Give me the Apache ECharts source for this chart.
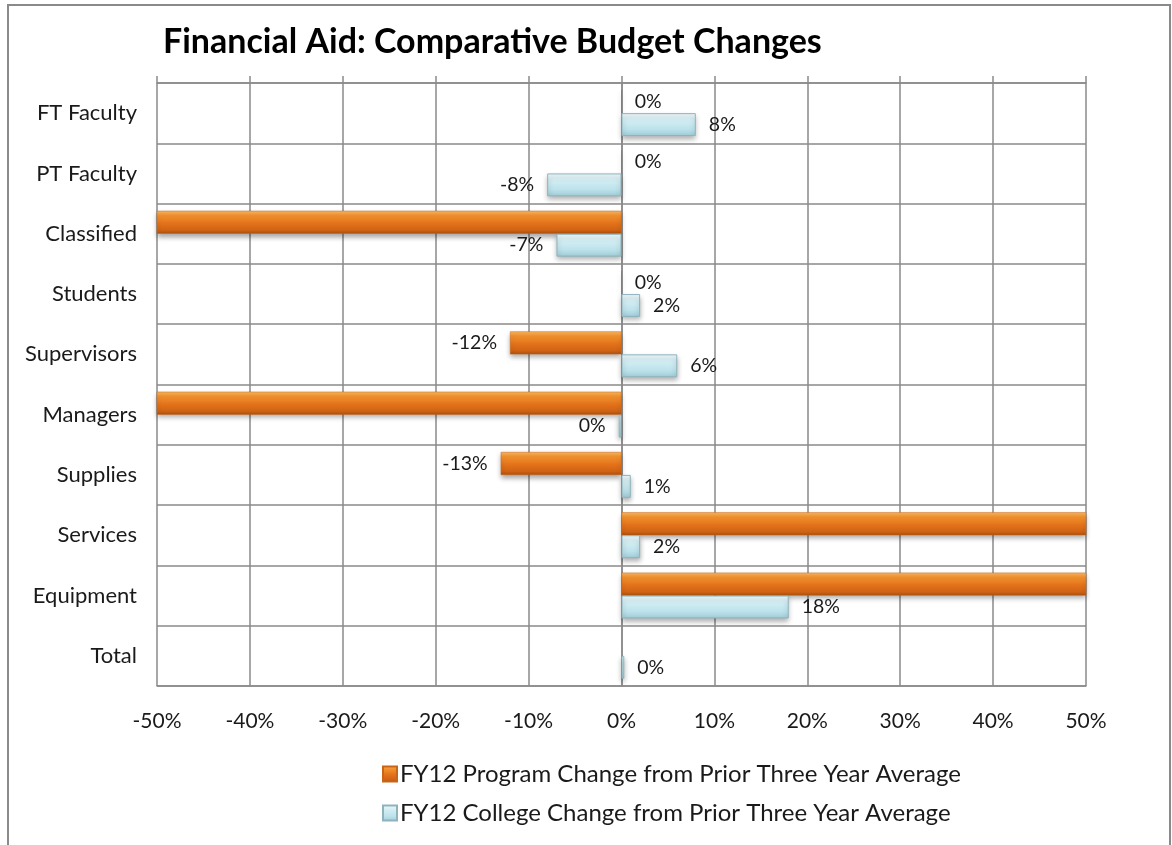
<!DOCTYPE html>
<html>
<head>
<meta charset="utf-8">
<script src="https://cdn.jsdelivr.net/npm/echarts@6/dist/echarts.min.js"></script>
<style>
  html, body { margin: 0; padding: 0; background: #fff; }
  #chart { width: 1172px; height: 845px; }
</style>
</head>
<body>
<div id="chart"></div>
<script>
// ---- data ----
const categories = ['FT Faculty', 'PT Faculty', 'Classified', 'Students', 'Supervisors', 'Managers', 'Supplies', 'Services', 'Equipment', 'Total'];
const programChange = [0, 0, -65, 0, -12, -70, -13, 80, 90, null];
const collegeChange = [8, -8, -7, 2, 6, -0.3, 1, 2, 18, 0.3];
const seriesNames = ['FY12 Program Change from Prior Three Year Average', 'FY12 College Change from Prior Three Year Average'];
const axisMin = -50, axisMax = 50, axisStep = 10;

const FONT = 'Lato, "Open Sans", sans-serif';

function toItems(arr) {
  return arr.map(v => {
    if (v === null) return null;
    const out = v > axisMax || v < axisMin;
    return {
      value: v,
      label: {
        show: !out,
        position: v < 0 ? 'left' : 'right'
      }
    };
  });
}

const orangeGrad = new echarts.graphic.LinearGradient(0, 0, 0, 1, [
  { offset: 0, color: '#fbb862' },
  { offset: 0.2, color: '#f2922f' },
  { offset: 0.55, color: '#e3721a' },
  { offset: 0.85, color: '#cf6214' },
  { offset: 1, color: '#a9500f' }
]);
const blueGrad = new echarts.graphic.LinearGradient(0, 0, 0, 1, [
  { offset: 0, color: '#f0fafc' },
  { offset: 0.3, color: '#d3eef4' },
  { offset: 0.7, color: '#bce2eb' },
  { offset: 1, color: '#a0ccd7' }
]);

const labelStyle = {
  show: true,
  fontFamily: FONT,
  fontSize: 19.5,
  color: '#1a1a1a',
  distance: 13,
  formatter: p => Math.round(p.value) + '%'
};

const chart = echarts.init(document.getElementById('chart'), null, { renderer: 'canvas' });
chart.setOption({
  animation: false,
  backgroundColor: '#fff',
  graphic: [{
    type: 'rect',
    shape: { x: 8, y: 5, width: 1162, height: 900 },
    style: { fill: 'none', stroke: '#8a8a8a', lineWidth: 2 },
    silent: true,
    z: -1
  }],
  title: {
    text: 'Financial Aid: Comparative Budget Changes',
    left: 158,
    top: 20,
    textStyle: { fontFamily: FONT, fontSize: 34, fontWeight: 'bold', color: '#000' }
  },
  legend: {
    orient: 'vertical',
    left: 377,
    top: 757,
    itemGap: 15,
    itemWidth: 14,
    itemHeight: 15,
    icon: 'rect',
    textStyle: { fontFamily: FONT, fontSize: 24, color: '#1a1a1a', padding: [0, 0, 0, -2] },
    data: seriesNames
  },
  grid: { left: 157, right: 86, top: 83, bottom: 159, containLabel: false },
  xAxis: [{
    type: 'value',
    position: 'bottom',
    min: axisMin, max: axisMax, interval: axisStep,
    axisLabel: { formatter: '{value}%', fontFamily: FONT, fontSize: 21, color: '#1a1a1a', margin: 25 },
    axisLine: { show: true, lineStyle: { color: '#8a8a8a', width: 1.5 } },
    axisTick: { show: false },
    splitLine: { show: true, lineStyle: { color: '#8a8a8a', width: 1.5 } }
  }, {
    type: 'value',
    position: 'top',
    min: axisMin, max: axisMax, interval: axisStep,
    axisLabel: { show: false },
    axisLine: { show: true, lineStyle: { color: '#8a8a8a', width: 1.5 } },
    axisTick: { show: true, length: 7, lineStyle: { color: '#8a8a8a', width: 1.5 } },
    splitLine: { show: false }
  }],
  yAxis: {
    type: 'category',
    inverse: true,
    data: categories,
    axisLabel: { fontFamily: FONT, fontSize: 22, color: '#1a1a1a', margin: 20 },
    axisLine: { show: true, lineStyle: { color: '#8a8a8a', width: 1.5 } },
    axisTick: { show: false },
    splitLine: { show: true, lineStyle: { color: '#8a8a8a', width: 1.5 } }
  },
  series: [{
    name: seriesNames[0],
    type: 'bar',
    xAxisIndex: 0,
    clip: true,
    barGap: '0%',
    barCategoryGap: '24%',
    data: toItems(programChange),
    itemStyle: {
      color: orangeGrad,
      borderColor: '#c86516',
      borderWidth: 0.5,
      shadowColor: 'rgba(0,0,0,0.35)',
      shadowBlur: 5,
      shadowOffsetY: 3
    },
    label: labelStyle
  }, {
    name: seriesNames[1],
    type: 'bar',
    xAxisIndex: 0,
    clip: true,
    barGap: '0%',
    barCategoryGap: '24%',
    data: toItems(collegeChange),
    itemStyle: {
      color: blueGrad,
      borderColor: '#8fb3bd',
      borderWidth: 1,
      shadowColor: 'rgba(0,0,0,0.3)',
      shadowBlur: 5,
      shadowOffsetY: 3
    },
    label: labelStyle
  }]
});
</script>
</body>
</html>
